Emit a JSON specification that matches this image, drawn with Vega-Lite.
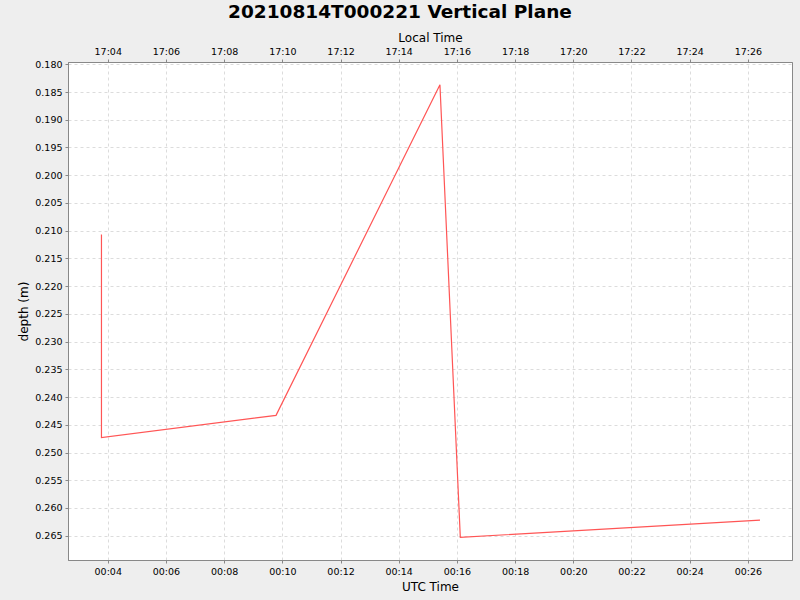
{
  "$schema": "https://vega.github.io/schema/vega-lite/v6.json",
  "width": 724,
  "height": 498,
  "autosize": {"type": "none"},
  "padding": {"left": 68, "top": 62, "right": 8, "bottom": 40},
  "background": "#eeeeee",
  "title": {
    "text": "20210814T000221 Vertical Plane",
    "font": "DejaVu Sans",
    "fontSize": 18.5,
    "fontWeight": "bold",
    "color": "#000000",
    "anchor": "middle",
    "frame": "group",
    "dx": -30,
    "offset": 10
  },
  "data": {
    "values": [
      {"time": "2021-08-14T00:03:47Z", "depth": 0.2107},
      {"time": "2021-08-14T00:03:47Z", "depth": 0.2473},
      {"time": "2021-08-14T00:09:47Z", "depth": 0.2433},
      {"time": "2021-08-14T00:15:25Z", "depth": 0.1837},
      {"time": "2021-08-14T00:16:07Z", "depth": 0.2653},
      {"time": "2021-08-14T00:26:25Z", "depth": 0.2622}
    ]
  },
  "encoding": {
    "x": {
      "field": "time",
      "type": "temporal",
      "scale": {
        "type": "utc",
        "domain": ["2021-08-14T00:02:38Z", "2021-08-14T00:27:31Z"],
        "nice": false
      }
    },
    "y": {
      "field": "depth",
      "type": "quantitative",
      "scale": {"domain": [0.17959, 0.26938], "reverse": true, "nice": false, "zero": false},
      "axis": {
        "title": "depth (m)",
        "titlePadding": 4,
        "values": [0.18, 0.185, 0.19, 0.195, 0.2, 0.205, 0.21, 0.215, 0.22, 0.225, 0.23, 0.235, 0.24, 0.245, 0.25, 0.255, 0.26, 0.265],
        "format": ".3f"
      }
    }
  },
  "layer": [
    {
      "mark": {"type": "line", "color": "#ff5555", "strokeWidth": 1.2},
      "encoding": {
        "x": {
          "field": "time",
          "type": "temporal",
          "axis": {
            "title": "UTC Time",
            "orient": "bottom",
            "titlePadding": 6,
            "format": "%H:%M",
            "values": [1628899440000, 1628899560000, 1628899680000, 1628899800000, 1628899920000, 1628900040000, 1628900160000, 1628900280000, 1628900400000, 1628900520000, 1628900640000, 1628900760000]
          }
        }
      }
    },
    {
      "mark": {"type": "line", "strokeOpacity": 0},
      "encoding": {
        "x": {
          "field": "time",
          "type": "temporal",
          "axis": {
            "title": "Local Time",
            "orient": "top",
            "titlePadding": 2,
            "grid": false,
            "labelExpr": "utcFormat(datum.value - 25200000, '%H:%M')",
            "values": [1628899440000, 1628899560000, 1628899680000, 1628899800000, 1628899920000, 1628900040000, 1628900160000, 1628900280000, 1628900400000, 1628900520000, 1628900640000, 1628900760000]
          }
        }
      }
    }
  ],
  "resolve": {"axis": {"x": "independent"}},
  "config": {
    "font": "DejaVu Sans",
    "view": {"fill": "#ffffff", "stroke": "#888888", "strokeWidth": 1},
    "axis": {
      "labelFont": "DejaVu Sans",
      "labelFontSize": 9.5,
      "labelColor": "#000000",
      "titleFont": "DejaVu Sans",
      "titleFontSize": 12,
      "titleFontWeight": "normal",
      "titleColor": "#000000",
      "domainColor": "#888888",
      "tickColor": "#888888",
      "tickSize": 3,
      "labelPadding": 3,
      "titlePadding": 4,
      "grid": true,
      "gridColor": "#dcdcdc",
      "gridDash": [3, 3],
      "labelFlush": false,
      "labelOverlap": false
    }
  }
}
